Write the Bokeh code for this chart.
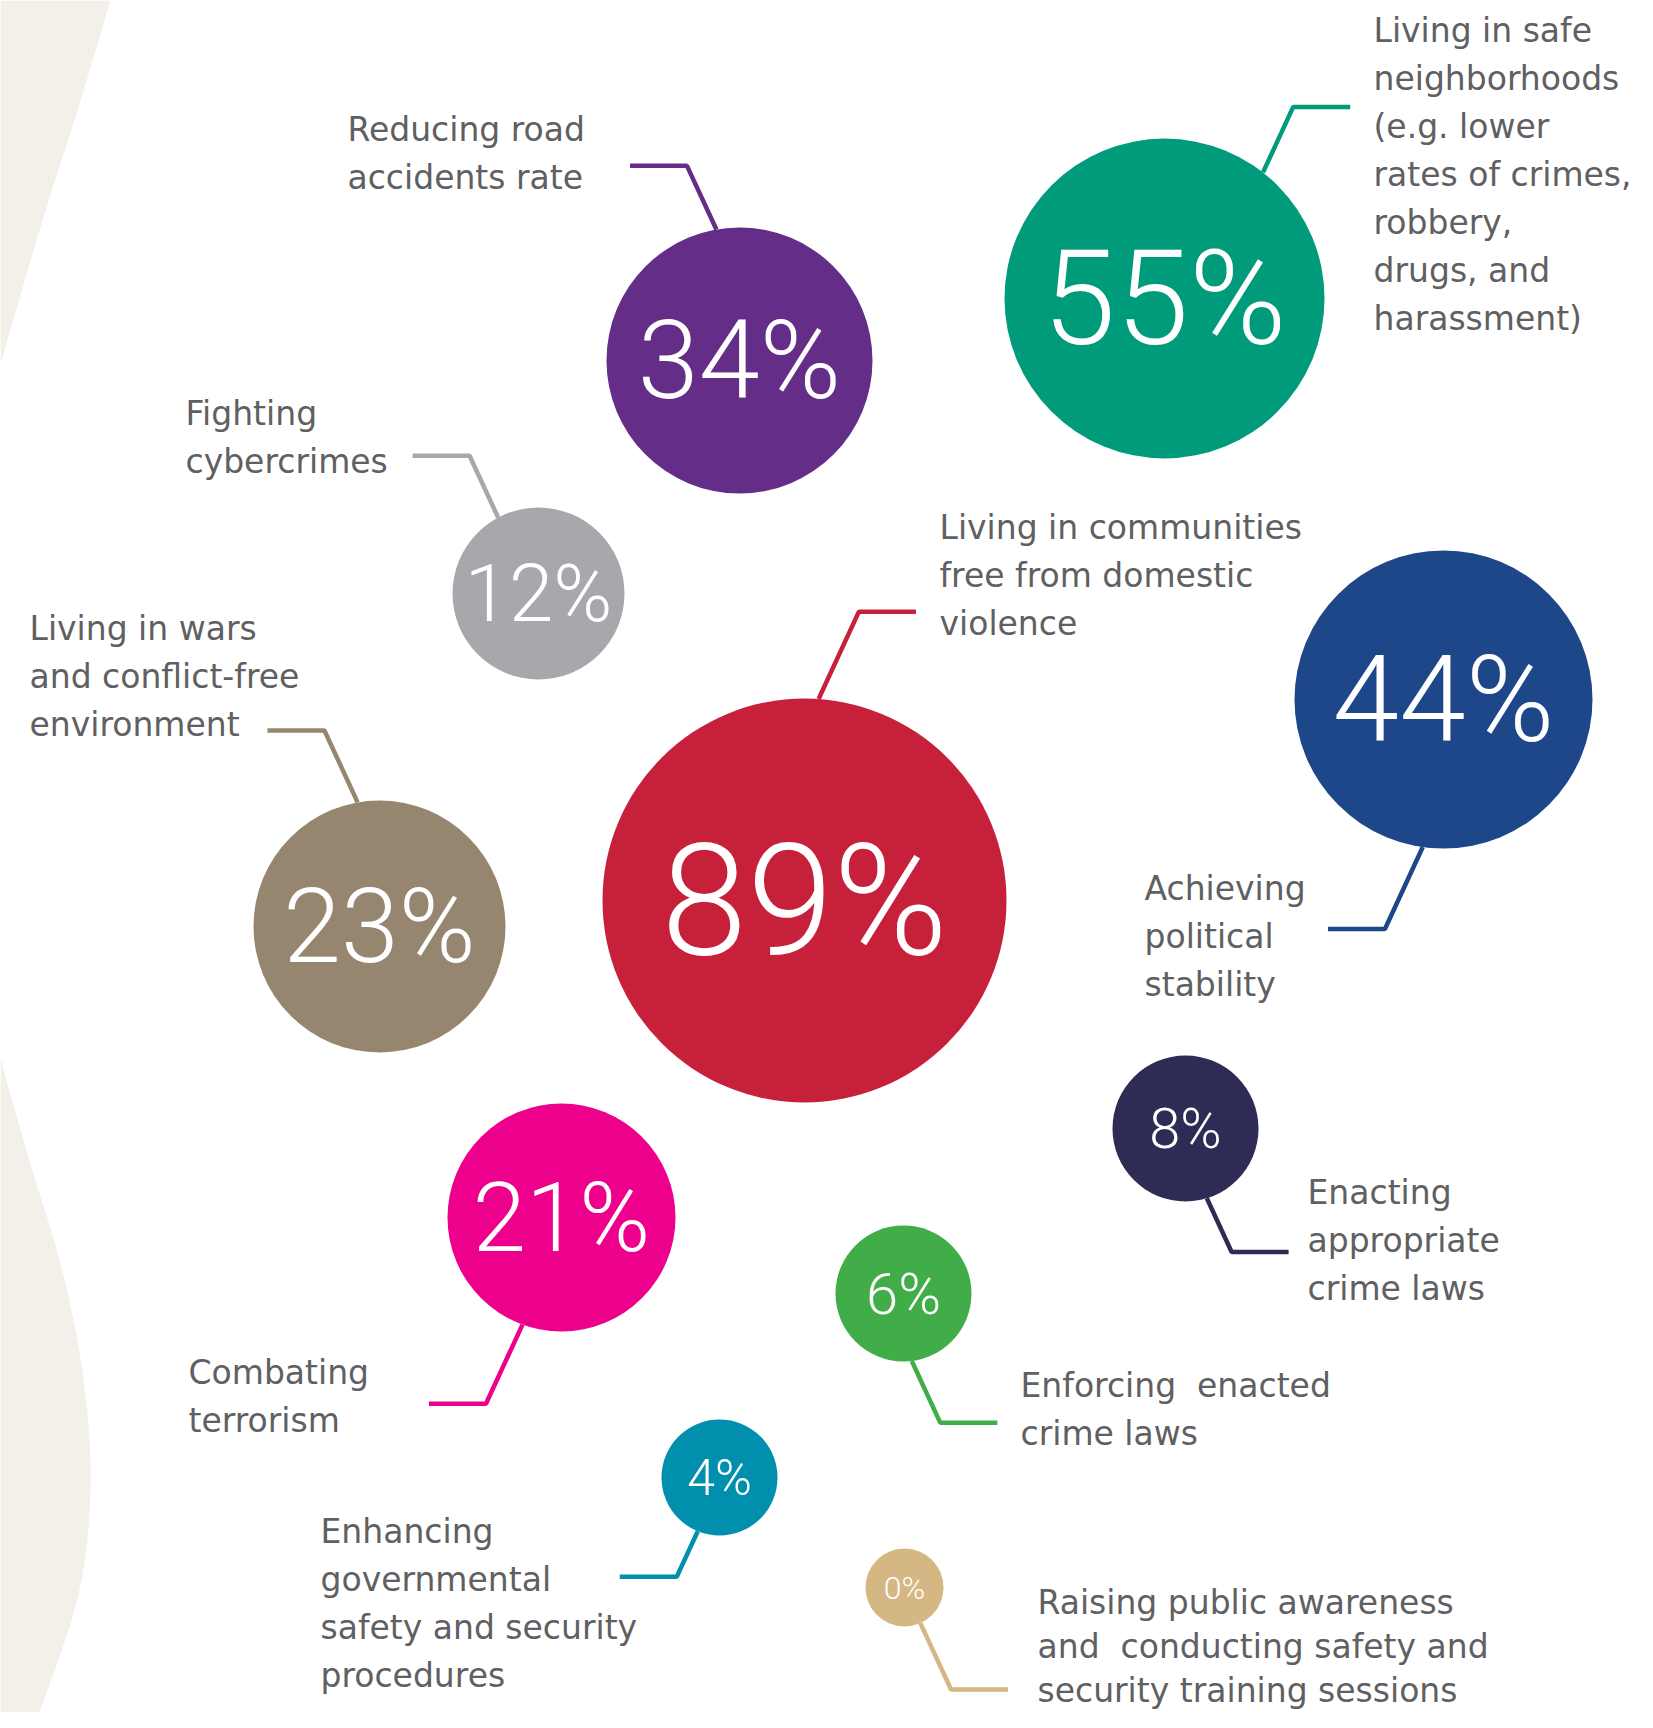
import numpy as np
from bokeh.plotting import figure
from bokeh.models import ColumnDataSource, Range1d
from bokeh.core.properties import value
from bokeh.embed import file_html
from bokeh.resources import INLINE

# ---------------- data ----------------
values = [34, 55, 12, 89, 23, 44, 8, 21, 6, 4, 0]
labels = [
    ["Reducing road", "accidents rate"],
    ["Living in safe", "neighborhoods", "(e.g. lower", "rates of crimes,", "robbery,", "drugs, and", "harassment)"],
    ["Fighting", "cybercrimes"],
    ["Living in communities", "free from domestic", "violence"],
    ["Living in wars", "and conflict-free", "environment"],
    ["Achieving", "political", "stability"],
    ["Enacting", "appropriate", "crime laws"],
    ["Combating", "terrorism"],
    ["Enforcing\u00a0 enacted", "crime laws"],
    ["Enhancing", "governmental", "safety and security", "procedures"],
    ["Raising public awareness", "and\u00a0 conducting safety and", "security training sessions"],
]
colors = ["#642d87", "#009b7b", "#a7a8ab", "#c7203b", "#968670", "#1e4789",
          "#2e2c55", "#ec008c", "#40ad49", "#008fac", "#d4b783"]

# ---------------- layout (pixels of the page) ----------------
cx = [739, 1164, 538, 804, 379, 1443, 1185, 561, 903, 719, 904]
cy = [360, 298, 593, 900, 926, 699, 1128, 1217, 1293, 1477, 1587]
rad = [133, 160, 86, 202, 126, 149, 73, 114, 68, 58, 39]
pct_size = [110, 132, 80, 155, 104, 120, 56, 96, 58, 50, 32]
lead_ang = [-100, -52, -118, -86, -100, 98, 73, 110, 83, 112, 66]
lead_len = [70, 72, 68, 96, 79, 90, 59, 87, 68, 50, 73]
lead_sx = [-1, 1, -1, 1, -1, -1, 1, -1, 1, -1, 1]
lead_sy = [-1, -1, -1, -1, -1, 1, 1, 1, 1, 1, 1]
lab_x = [347, 1373, 185, 939, 29, 1144, 1307, 188, 1020, 320, 1037]
lab_y = [129, 30, 413, 527, 628, 888, 1192, 1372, 1385, 1531, 1602]
lab_step = [48, 48, 48, 48, 48, 48, 48, 48, 48, 48, 44]
HLEN = 57

W, H = 1637, 1712
p = figure(width=W, height=H, x_range=Range1d(0, W), y_range=Range1d(H, 0),
           output_backend="svg", toolbar_location=None, min_border=0,
           background_fill_color="white", border_fill_color="white")
p.axis.visible = False
p.grid.visible = False
p.outline_line_color = None

# decorative background shapes
def smooth(pts, n=20):
    pts = np.array(pts, dtype=float)
    out = []
    P = np.vstack([pts[0], pts, pts[-1]])
    for i in range(1, len(P) - 2):
        p0, p1, p2, p3 = P[i - 1], P[i], P[i + 1], P[i + 2]
        for t in np.linspace(0, 1, n, endpoint=False):
            t2, t3 = t * t, t * t * t
            out.append(0.5 * ((2 * p1) + (-p0 + p2) * t + (2 * p0 - 5 * p1 + 4 * p2 - p3) * t2 + (-p0 + 3 * p1 - 3 * p2 + p3) * t3))
    out.append(pts[-1])
    return np.array(out)

top = smooth([(110, 0), (77, 110), (42, 220), (0, 364)])
top = np.vstack([[(0, 0)], top])
p.patch(top[:, 0], top[:, 1], fill_color="#f3f0ea", line_color=None)
bot = smooth([(0, 1058), (28, 1157), (61, 1267), (83, 1378), (90, 1488), (77, 1598), (33, 1728)])
bot = np.vstack([bot, [(0, 1728)]])
p.patch(bot[:, 0], bot[:, 1], fill_color="#f3f0ea", line_color=None)

# leader lines
dirx, diry = 0.42, 0.91
xs, ys = [], []
for i in range(len(values)):
    a = np.deg2rad(lead_ang[i])
    sx0 = cx[i] + rad[i] * np.cos(a)
    sy0 = cy[i] + rad[i] * np.sin(a)
    ex = sx0 + lead_sx[i] * dirx * lead_len[i]
    ey = sy0 + lead_sy[i] * diry * lead_len[i]
    hx = ex + lead_sx[i] * HLEN
    xs.append([sx0, ex, hx])
    ys.append([sy0, ey, ey])
p.multi_line(xs, ys, line_color=colors, line_width=4.5)

# bubbles
src = ColumnDataSource(dict(x=cx, y=cy, r=rad, c=colors,
                            t=[f"{v}%" for v in values],
                            fs=[f"{s}px" for s in pct_size]))
p.circle(x="x", y="y", radius="r", fill_color="c", line_color=None, source=src)
p.text(x="x", y="y", text="t", text_font_size="fs", text_color="white",
       text_align="center", text_baseline="middle",
       text_font=value("'Roboto Light', Roboto"), source=src)

# labels
tx, ty, tt = [], [], []
for i, lines in enumerate(labels):
    for j, ln in enumerate(lines):
        tx.append(lab_x[i])
        ty.append(lab_y[i] + j * lab_step[i])
        tt.append(ln)
p.text(x=tx, y=ty, text=tt, text_font=value("DejaVu Sans"), text_font_size="33px",
       text_color="#5f6062", text_align="left", text_baseline="middle")

open("out.html", "w").write(file_html(p, INLINE))
